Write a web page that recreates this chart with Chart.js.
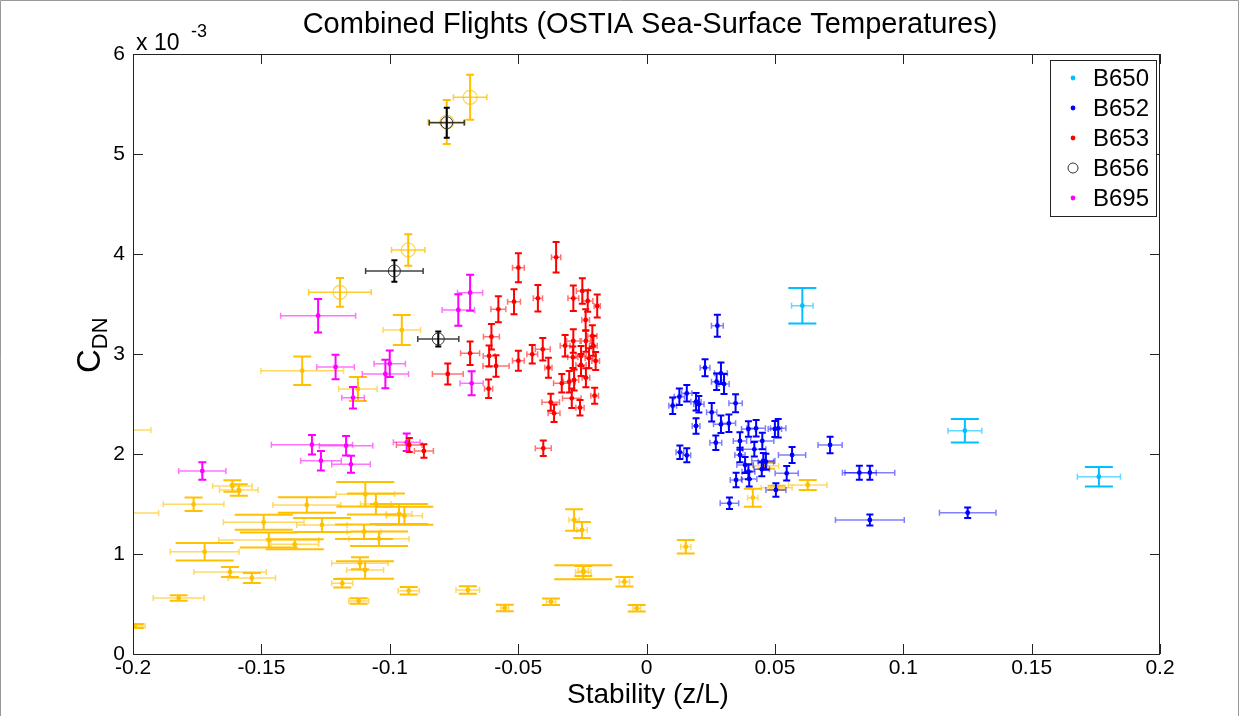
<!DOCTYPE html>
<html>
<head>
<meta charset="utf-8">
<title>Combined Flights</title>
<script src="https://cdn.jsdelivr.net/npm/chart.js@4.4.0/dist/chart.umd.min.js"></script>
<style>
  html, body { margin: 0; padding: 0; background: #fff; }
  canvas { display: block; }
</style>
</head>
<body>
<canvas id="chart" width="1240" height="716" style="width:1240px;height:716px"></canvas>
<script>
// rows are [stability z/L, C_DN (x 10^-3), x error, y error]
const b650 = [
  [0.0607, 3.483, 0.0042, 0.178],
  [0.1240, 2.233, 0.0066, 0.118],
  [0.1762, 1.773, 0.0084, 0.097]
];

const b652 = [
  [0.0276, 3.283, 0.0023, 0.110], [0.0228, 2.863, 0.0019, 0.085],
  [0.0290, 2.807, 0.0025, 0.107], [0.0273, 2.723, 0.0020, 0.083],
  [0.0302, 2.700, 0.0020, 0.100], [0.0347, 2.507, 0.0026, 0.090],
  [0.0102, 2.483, 0.0015, 0.083], [0.0128, 2.573, 0.0020, 0.083],
  [0.0157, 2.607, 0.0020, 0.083], [0.0193, 2.523, 0.0020, 0.087],
  [0.0204, 2.497, 0.0020, 0.083], [0.0254, 2.417, 0.0020, 0.092],
  [0.0193, 2.280, 0.0015, 0.078], [0.0290, 2.297, 0.0029, 0.087],
  [0.0321, 2.307, 0.0026, 0.087], [0.0270, 2.113, 0.0023, 0.072],
  [0.0130, 2.017, 0.0015, 0.067], [0.0157, 1.987, 0.0015, 0.070],
  [0.0397, 2.250, 0.0027, 0.078], [0.0427, 2.257, 0.0036, 0.083],
  [0.0364, 2.130, 0.0026, 0.087], [0.0364, 1.990, 0.0020, 0.072],
  [0.0420, 2.047, 0.0045, 0.072], [0.0451, 2.130, 0.0045, 0.083],
  [0.0500, 2.250, 0.0026, 0.080], [0.0513, 2.257, 0.0030, 0.093],
  [0.0384, 1.890, 0.0032, 0.080], [0.0397, 1.823, 0.0025, 0.075],
  [0.0455, 1.933, 0.0045, 0.078], [0.0465, 1.923, 0.0030, 0.080],
  [0.0449, 1.847, 0.0030, 0.070], [0.0400, 1.750, 0.0030, 0.075],
  [0.0349, 1.740, 0.0023, 0.072], [0.0567, 1.990, 0.0053, 0.080],
  [0.0546, 1.807, 0.0045, 0.073], [0.0504, 1.640, 0.0039, 0.067],
  [0.0323, 1.507, 0.0036, 0.057], [0.0715, 2.090, 0.0047, 0.083],
  [0.0829, 1.813, 0.0066, 0.070], [0.0870, 1.813, 0.0097, 0.070],
  [0.0870, 1.340, 0.0134, 0.055], [0.1251, 1.413, 0.0110, 0.053]
];

const b653 = [
  [-0.0924, 2.090, 0.0050, 0.070], [-0.0867, 2.030, 0.0037, 0.068],
  [-0.0774, 2.800, 0.0060, 0.105], [-0.0687, 3.007, 0.0037, 0.117],
  [-0.0613, 2.980, 0.0023, 0.105], [-0.0586, 2.880, 0.0051, 0.108],
  [-0.0604, 3.173, 0.0031, 0.128], [-0.0577, 3.447, 0.0029, 0.130],
  [-0.0615, 2.653, 0.0016, 0.092], [-0.0516, 3.523, 0.0025, 0.125],
  [-0.0499, 3.863, 0.0023, 0.145], [-0.0499, 2.933, 0.0023, 0.100],
  [-0.0445, 2.997, 0.0021, 0.092], [-0.0404, 3.047, 0.0029, 0.113],
  [-0.0423, 3.557, 0.0018, 0.133], [-0.0352, 3.967, 0.0018, 0.153],
  [-0.0382, 2.863, 0.0014, 0.100], [-0.0330, 2.707, 0.0032, 0.092],
  [-0.0373, 2.517, 0.0034, 0.085], [-0.0360, 2.407, 0.0023, 0.088],
  [-0.0402, 2.057, 0.0031, 0.077], [-0.0291, 2.557, 0.0036, 0.097],
  [-0.0259, 2.463, 0.0016, 0.077], [-0.0301, 2.723, 0.0023, 0.108],
  [-0.0282, 2.740, 0.0018, 0.105], [-0.0317, 3.083, 0.0019, 0.108],
  [-0.0285, 3.130, 0.0026, 0.117], [-0.0287, 2.967, 0.0020, 0.108],
  [-0.0255, 2.980, 0.0020, 0.100], [-0.0255, 2.890, 0.0020, 0.110],
  [-0.0285, 3.557, 0.0021, 0.128], [-0.0250, 3.630, 0.0023, 0.128],
  [-0.0229, 3.530, 0.0020, 0.108], [-0.0192, 3.480, 0.0012, 0.115],
  [-0.0237, 3.340, 0.0015, 0.108], [-0.0236, 3.130, 0.0018, 0.108],
  [-0.0211, 3.180, 0.0018, 0.108], [-0.0207, 3.083, 0.0015, 0.100],
  [-0.0224, 2.957, 0.0015, 0.100], [-0.0198, 2.930, 0.0015, 0.090],
  [-0.0236, 2.763, 0.0015, 0.095], [-0.0202, 2.583, 0.0015, 0.080]
];

const b656 = [
  [-0.0778, 5.313, 0.0068, 0.150],
  [-0.0982, 3.830, 0.0112, 0.108],
  [-0.0811, 3.150, 0.0080, 0.075]
];

const b695 = [
  [-0.1279, 3.383, 0.0146, 0.167], [-0.1211, 2.870, 0.0073, 0.122],
  [-0.1000, 2.903, 0.0061, 0.133], [-0.1017, 2.800, 0.0090, 0.142],
  [-0.1143, 2.563, 0.0044, 0.108], [-0.1303, 2.093, 0.0158, 0.098],
  [-0.1170, 2.083, 0.0104, 0.097], [-0.1268, 1.933, 0.0079, 0.097],
  [-0.1151, 1.897, 0.0075, 0.085], [-0.1730, 1.830, 0.0092, 0.088],
  [-0.0934, 2.117, 0.0052, 0.087], [-0.0687, 3.613, 0.0049, 0.180],
  [-0.0733, 3.440, 0.0063, 0.157], [-0.0681, 2.707, 0.0045, 0.120]
];

// unlabelled orange flights (not in the legend)
const otherOpen = [
  [-0.0687, 5.567, 0.0065, 0.225], [-0.0778, 5.320, 0.0072, 0.220],
  [-0.0928, 4.040, 0.0065, 0.158], [-0.1194, 3.617, 0.0122, 0.144]
];

const otherDots = [
  [-0.0953, 3.240, 0.0073, 0.150], [-0.1341, 2.833, 0.0161, 0.142],
  [-0.1124, 2.650, 0.0075, 0.120], [-0.2050, 2.240, 0.0120, 0.000],
  [-0.2060, 1.410, 0.0160, 0.000], [-0.1993, 0.280, 0.0040, 0.020],
  [-0.1613, 1.680, 0.0077, 0.058], [-0.1588, 1.640, 0.0075, 0.058],
  [-0.1764, 1.497, 0.0118, 0.067], [-0.1622, 0.820, 0.0141, 0.050],
  [-0.1537, 0.760, 0.0092, 0.050], [-0.1822, 0.560, 0.0099, 0.028],
  [-0.1185, 0.707, 0.0041, 0.043], [-0.1121, 0.530, 0.0039, 0.028],
  [-0.1116, 0.907, 0.0110, 0.060], [-0.0926, 0.633, 0.0041, 0.038],
  [-0.0282, 1.340, 0.0020, 0.107], [-0.0251, 1.240, 0.0020, 0.080],
  [-0.0246, 0.830, 0.0020, 0.050], [-0.0086, 0.723, 0.0020, 0.047],
  [0.0153, 1.073, 0.0020, 0.067], [-0.0038, 0.457, 0.0015, 0.032],
  [-0.0372, 0.523, 0.0018, 0.033], [-0.0552, 0.460, 0.0015, 0.032],
  [-0.0696, 0.640, 0.0046, 0.037], [0.0414, 1.563, 0.0020, 0.090],
  [0.0628, 1.690, 0.0075, 0.050], [0.0465, 1.883, 0.0050, 0.030],
  [0.0507, 1.663, 0.0060, 0.020]
];

const otherWide = [
  [-0.1323, 1.490, 0.0132, 0.078], [-0.1491, 1.317, 0.0157, 0.075],
  [-0.1471, 1.140, 0.0195, 0.075], [-0.1370, 1.097, 0.0093, 0.050],
  [-0.1721, 1.023, 0.0134, 0.088], [-0.1096, 0.840, 0.0072, 0.087],
  [-0.1095, 1.597, 0.0114, 0.122], [-0.1054, 1.500, 0.0060, 0.105],
  [-0.0964, 1.400, 0.0050, 0.100], [-0.0943, 1.383, 0.0070, 0.090],
  [-0.1264, 1.290, 0.0098, 0.070], [-0.1100, 1.223, 0.0066, 0.073],
  [-0.1042, 1.153, 0.0117, 0.073], [-0.0246, 0.817, 0.0030, 0.070]
];

const xTickStep = 0.05;
const yTickStep = 1;

const FONT = "'Liberation Sans', Arial, sans-serif";
const ORANGE = 'rgb(255,192,0)';

function toPoints(rows) {
  return rows.map(r => ({ x: r[0], y: r[1], dx: r[2], dy: r[3] }));
}

function dotSet(label, rows, color, barColor, capY, order, inLegend) {
  return {
    label: label,
    data: toPoints(rows),
    pointStyle: 'circle',
    pointRadius: 2.4,
    pointBackgroundColor: color,
    pointBorderColor: color,
    pointBorderWidth: 0,
    borderColor: color,
    barColor: barColor,
    capY: capY,
    order: order,
    inLegend: inLegend
  };
}

const datasets = [
  dotSet('other', otherWide, ORANGE, 'rgba(255,192,0,0.6)', 29, 20, false),
  dotSet('other', otherDots, ORANGE, 'rgba(255,192,0,0.6)', 9, 19, false),
  {
    label: 'other', data: toPoints(otherOpen), pointStyle: 'circle', pointRadius: 7,
    pointBackgroundColor: 'rgba(0,0,0,0)', pointBorderColor: 'rgba(255,192,0,0.7)', pointBorderWidth: 1.2,
    borderColor: ORANGE, barColor: 'rgba(255,192,0,0.8)', capY: 4, order: 18, inLegend: false
  },
  dotSet('B695', b695, '#ff00ff', 'rgba(255,0,255,0.55)', 4, 5, true),
  dotSet('B653', b653, '#ff0000', 'rgba(255,0,0,0.55)', 3.5, 4, true),
  dotSet('B652', b652, '#0000ff', 'rgba(0,0,255,0.5)', 3.5, 3, true),
  dotSet('B650', b650, 'rgb(0,191,255)', 'rgba(0,191,255,0.6)', 14, 2, true),
  {
    label: 'B656', data: toPoints(b656), pointStyle: 'circle', pointRadius: 6,
    pointBackgroundColor: 'rgba(0,0,0,0)', pointBorderColor: '#333', pointBorderWidth: 1,
    borderColor: '#000', barColor: 'rgba(0,0,0,0.75)', capY: 3, order: 1, inLegend: true
  }
];

// vertical and horizontal error bars, drawn just before each dataset's markers
const errorBars = {
  id: 'errorBars',
  beforeDatasetDraw(chart, args) {
    const ds = chart.data.datasets[args.index];
    const xs = chart.scales.x, ys = chart.scales.y;
    const a = chart.chartArea;
    const c = chart.ctx;
    c.save();
    c.beginPath();
    c.rect(a.left, a.top, a.right - a.left, a.bottom - a.top);
    c.clip();
    ds.data.forEach(p => {
      const cx = xs.getPixelForValue(p.x), cy = ys.getPixelForValue(p.y);
      const x0 = xs.getPixelForValue(p.x - p.dx), x1 = xs.getPixelForValue(p.x + p.dx);
      const y0 = ys.getPixelForValue(p.y - p.dy), y1 = ys.getPixelForValue(p.y + p.dy);
      c.strokeStyle = ds.barColor;
      c.lineWidth = 1.5;
      c.beginPath();
      c.moveTo(x0, cy); c.lineTo(x1, cy);
      c.moveTo(x0, cy - 3); c.lineTo(x0, cy + 3);
      c.moveTo(x1, cy - 3); c.lineTo(x1, cy + 3);
      c.stroke();
      if (p.dy > 0) {
        c.strokeStyle = ds.borderColor;
        c.lineWidth = 2;
        c.beginPath();
        c.moveTo(cx, y0); c.lineTo(cx, y1);
        c.moveTo(cx - ds.capY, y0); c.lineTo(cx + ds.capY, y0);
        c.moveTo(cx - ds.capY, y1); c.lineTo(cx + ds.capY, y1);
        c.stroke();
      }
    });
    c.restore();
  }
};

// axes box, inward ticks, titles and the legend
const decorations = {
  id: 'decorations',
  afterDraw(chart) {
    const c = chart.ctx;
    const a = chart.chartArea;
    const xs = chart.scales.x, ys = chart.scales.y;
    c.save();

    // figure frame
    c.strokeStyle = '#999';
    c.lineWidth = 1;
    c.beginPath();
    c.moveTo(0.5, 716); c.lineTo(0.5, 0.5); c.lineTo(1238.5, 0.5); c.lineTo(1238.5, 716);
    c.stroke();

    // axes box
    c.strokeStyle = '#222';
    c.lineWidth = 1;
    c.strokeRect(a.left + 0.5, a.top + 0.5, a.right - a.left - 1, a.bottom - a.top);
    c.beginPath();
    xs.ticks.forEach(t => {
      const px = Math.round(xs.getPixelForValue(t.value)) + 0.5;
      c.moveTo(px, a.bottom); c.lineTo(px, a.bottom - 10);
      c.moveTo(px, a.top); c.lineTo(px, a.top + 10);
    });
    ys.ticks.forEach(t => {
      const py = Math.round(ys.getPixelForValue(t.value)) + 0.5;
      c.moveTo(a.left, py); c.lineTo(a.left + 10, py);
      c.moveTo(a.right, py); c.lineTo(a.right - 10, py);
    });
    c.stroke();

    c.fillStyle = '#000';
    // title
    c.font = '29px ' + FONT;
    c.textAlign = 'center';
    c.textBaseline = 'middle';
    c.fillText('Combined Flights (OSTIA Sea-Surface Temperatures)', 650, 25);

    // x axis title
    c.font = '28px ' + FONT;
    c.fillText('Stability (z/L)', 648, 695);

    // exponent label
    c.textAlign = 'left';
    c.textBaseline = 'alphabetic';
    c.font = '23px ' + FONT;
    c.fillText('x 10', a.left + 3, 50);
    c.font = '18px ' + FONT;
    c.fillText('-3', a.left + 58, 37);

    // y axis title, C with subscript DN
    c.save();
    c.translate(100, 373);
    c.rotate(-Math.PI / 2);
    c.font = '33px ' + FONT;
    c.fillText('C', 0, 0);
    const cw = c.measureText('C').width;
    c.font = '22px ' + FONT;
    c.fillText('DN', cw, 7);
    c.restore();

    // legend
    const lx = 1050, ly = 60, lw = 106, lh = 156;
    c.fillStyle = '#fff';
    c.fillRect(lx, ly, lw, lh);
    c.strokeStyle = '#222';
    c.strokeRect(lx + 0.5, ly + 0.5, lw, lh);
    const entries = ['B650', 'B652', 'B653', 'B656', 'B695']
      .map(n => chart.data.datasets.find(d => d.inLegend && d.label === n));
    c.font = '24px ' + FONT;
    c.textBaseline = 'middle';
    entries.forEach((d, i) => {
      const y = ly + 18 + i * 30;
      c.beginPath();
      if (d.pointRadius > 4) {
        c.strokeStyle = '#333';
        c.lineWidth = 1;
        c.arc(lx + 23, y, 5, 0, Math.PI * 2);
        c.stroke();
      } else {
        c.fillStyle = d.pointBackgroundColor;
        c.arc(lx + 23, y, 2.4, 0, Math.PI * 2);
        c.fill();
      }
      c.fillStyle = '#000';
      c.textAlign = 'left';
      c.fillText(d.label, lx + 43, y + 1);
    });
    c.restore();
  }
};

const tickFont = { family: FONT, size: 21 };

new Chart(document.getElementById('chart').getContext('2d'), {
  type: 'scatter',
  data: { datasets: datasets },
  options: {
    responsive: false,
    animation: false,
    layout: { padding: { top: 54, right: 80, bottom: 0, left: 0 } },
    plugins: { legend: { display: false }, tooltip: { enabled: false } },
    scales: {
      x: {
        type: 'linear', min: -0.2, max: 0.2,
        grid: { display: false }, border: { display: false },
        ticks: {
          stepSize: xTickStep, autoSkip: false, maxRotation: 0, padding: -6,
          color: '#000', font: tickFont,
          callback: v => String(Math.round(v * 100) / 100)
        },
        afterFit: s => { s.height = 62; }
      },
      y: {
        type: 'linear', min: 0, max: 6,
        grid: { display: false }, border: { display: false },
        ticks: { stepSize: yTickStep, padding: 0, color: '#000', font: tickFont },
        afterFit: s => { s.width = 133; }
      }
    }
  },
  plugins: [errorBars, decorations]
});
</script>
</body>
</html>
